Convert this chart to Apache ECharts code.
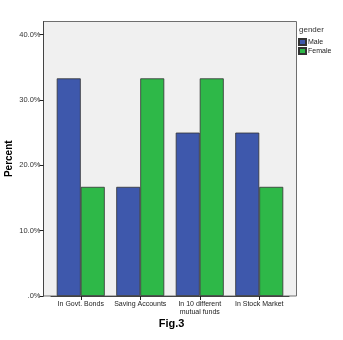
<!DOCTYPE html>
<html><head><meta charset="utf-8">
<script src="https://cdn.jsdelivr.net/npm/echarts@6/dist/echarts.min.js"></script>
<style>html,body{margin:0;padding:0;background:#fff}#c{width:343px;height:340px}</style>
</head><body><div id="c"></div>
<script>
const categories = ['In Govt. Bonds', 'Saving Accounts', 'In 10 different\nmutual funds', 'In Stock Market'];
const maleValues = [33.3, 16.7, 25.0, 25.0];
const femaleValues = [16.7, 33.3, 33.3, 16.7];
const yTicks = [0, 10, 20, 30, 40];
const seriesNames = ['Male', 'Female'];

const chart = echarts.init(document.getElementById('c'), null, {renderer: 'canvas'});
const FONT = 'Liberation Sans, Arial, sans-serif';
chart.setOption({
  animation: false,
  backgroundColor: '#ffffff',
  graphic: [
    {type: 'rect', z: -10, shape: {x: 43.5, y: 21.5, width: 253, height: 274.5},
     style: {fill: '#f0f0f0', stroke: '#6e6e6e', lineWidth: 1}},
    {type: 'text', left: 299, top: 26, style: {text: 'gender', font: '8px ' + FONT, fill: '#333'}},
    {type: 'text', left: 'center', top: 318, style: {text: 'Fig.3', font: 'bold 11px ' + FONT, fill: '#000'}}
  ],
  legend: {
    data: seriesNames, orient: 'vertical', left: 293, top: 33,
    itemWidth: 7, itemHeight: 6, itemGap: 1, icon: 'rect',
    textStyle: {fontSize: 7, fontFamily: FONT, color: '#222', padding: [0, 0, 0, -3], lineHeight: 8}
  },
  grid: {left: 51, right: 54, top: 21.5, bottom: 44, containLabel: false, outerBoundsMode: 'none'},
  xAxis: {
    type: 'category', data: categories,
    axisLine: {show: true, lineStyle: {color: '#444', width: 1}},
    axisTick: {show: true, alignWithLabel: true, length: 4, lineStyle: {color: '#222'}},
    axisLabel: {fontSize: 7, fontFamily: FONT, color: '#222', margin: 4, lineHeight: 8, interval: 0}
  },
  yAxis: {
    type: 'value', min: 0, max: 42, interval: 10, offset: 7.5,
    name: 'Percent', nameLocation: 'middle', nameGap: 29, nameMoveOverlap: false,
    nameTextStyle: {fontSize: 10, fontWeight: 'bold', fontFamily: FONT, color: '#000'},
    axisLine: {show: true, lineStyle: {color: '#444', width: 1}},
    axisTick: {show: true, length: 4, customValues: yTicks, lineStyle: {color: '#222'}},
    axisLabel: {customValues: yTicks, fontSize: 7.5, fontFamily: FONT, color: '#333', margin: 3,
      formatter: v => v === 0 ? '.0%' : v.toFixed(1) + '%'},
    splitLine: {show: false}
  },
  series: [
    {name: seriesNames[0], type: 'bar', data: maleValues, barWidth: 24, barGap: '0%',
     itemStyle: {color: '#3e58ac', borderColor: '#333', borderWidth: 0.8}},
    {name: seriesNames[1], type: 'bar', data: femaleValues, barWidth: 24,
     itemStyle: {color: '#2eb848', borderColor: '#333', borderWidth: 0.8}}
  ]
});
</script></body></html>
